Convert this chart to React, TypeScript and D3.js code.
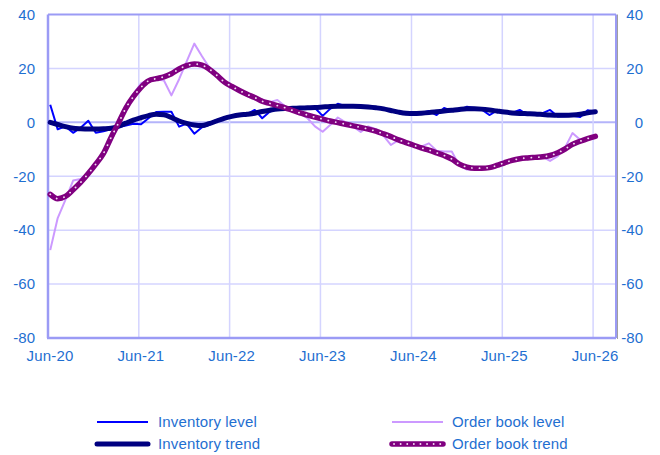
import React from "react";
import * as d3 from "d3";

const xTickLabels = ["Jun-20", "Jun-21", "Jun-22", "Jun-23", "Jun-24", "Jun-25", "Jun-26"];
const yTicks = [-80, -60, -40, -20, 0, 20, 40];

// monthly observations from Jun-2020 to Jun-2026
const startYear = 2020;
const startMonth = 5; // June (0-based)

const inventoryLevel = [
  6.5, -2.6, -1.5, -3.9, -2, 0.6, -3.9, -3.3, -2.5, -1.8, -1.2, -0.5,
  -0.7, 1.5, 3.8, 3.9, 3.9, -1.6, -0.5, -4.2, -1.8, -1, 0.5, 1.5,
  2, 2.5, 3, 4.6, 1.5, 4, 4.8, 5, 5.1, 5.3, 5.6, 5.3,
  2.4, 5, 6.9, 6, 6, 6, 5.5, 5.5, 5, 4.6, 3.5, 3,
  3.1, 3.5, 4.2, 2.7, 5.3, 4.2, 4.5, 5.8, 5.3, 4.8, 2.7, 4.3,
  4, 3.5, 4.6, 2.8, 3, 3.4, 4.6, 2.2, 2.3, 2.4, 2, 4.5,
  3.9,
];

const inventoryTrend = [
  0, -0.8, -1.6, -2.2, -2.4, -2.5, -2.5, -2.4, -2.2, -1.5, -0.3, 0.8,
  1.7, 2.5, 3, 2.8, 1.8, 0.5, -0.4, -1, -1.2, -0.5, 0.5, 1.5,
  2.2, 2.7, 3, 3.4, 4, 4.5, 4.9, 5.1, 5.2, 5.3, 5.4, 5.5,
  5.7, 5.9, 6, 6, 6, 5.9, 5.7, 5.4, 5, 4.4, 3.8, 3.4,
  3.3, 3.4, 3.6, 3.9, 4.2, 4.5, 4.8, 5, 5, 4.9, 4.6, 4.2,
  3.8, 3.5, 3.3, 3.2, 3.1, 2.9, 2.7, 2.6, 2.6, 2.7, 3, 3.5,
  3.9,
];

const orderBookLevel = [
  -47.4, -35.5, -28.8, -21.6, -21, -19, -16, -12, -7, -1, 5, 10.5,
  14.5, 15.5, 16, 15.5, 10, 16, 22.5, 29.2, 24.5, 20.5, 17.5, 14.5,
  13, 11.5, 10, 9.3, 8.5, 7.5, 8.3, 6, 4.5, 3.5, 1.5, -1.5,
  -3.5, -1, 1.8, 0, -1.5, -3.6, -1.5, -2.5, -5, -8.4, -6.6, -7.5,
  -8, -9, -7.8, -10.5, -10.8, -10.8, -16, -17.5, -17.5, -17.5, -17, -16.5,
  -14.8, -14, -13.5, -13.3, -13, -12.8, -14.3, -12.5, -9, -4, -6.5, -6,
  -5.3,
];

const orderBookTrend = [
  -26.7, -28.3, -27.5, -25, -22.3, -19, -15.5, -11.5, -5.5, -0.5, 5.3, 9.5,
  13, 15.4, 16.2, 16.9, 18, 19.8, 21, 21.6, 21.2, 19.8, 17.5, 15,
  13.3, 11.8, 10.4, 9.2, 7.8, 7, 6.2, 5.4, 4.4, 3.5, 2.7, 1.9,
  1.2, 0.5, -0.1, -0.7, -1.3, -1.9, -2.5, -3.3, -4.3, -5.3, -6.5, -7.5,
  -8.5, -9.5, -10.3, -11.3, -12.3, -13.6, -15.5, -16.6, -17, -17, -16.8, -16,
  -15, -14.1, -13.5, -13.2, -13, -12.8, -12.3, -11.3, -9.8, -8.2, -7, -6,
  -5.2,
];

const seriesNames = ["Inventory level", "Inventory trend", "Order book level", "Order book trend"];

const W = 660;
const H = 455;
const left = 48;
const right = 616;
const top = 14.5;
const bottom = 338;

const labelColor = "#1f6fd1";
const axisColor = "#9b9bf5";
const gridColor = "#d4d4ff";
const font = "'Liberation Sans', Arial, sans-serif";
const fs = 15;
const ls = 0.15;

export default function App() {
  const dates = inventoryLevel.map((_, i) => new Date(startYear, startMonth + i, 10));
  const x = d3
    .scaleTime()
    .domain([new Date(2020, 5, 1), new Date(2026, 8, 1)])
    .range([left, right]);
  const y = d3.scaleLinear().domain([-80, 40]).range([bottom, top]);

  const tickDates = xTickLabels.map((_, i) => new Date(2020 + i, 5, 1));

  const lin = d3
    .line<number>()
    .x((_, i) => x(dates[i]))
    .y((d) => y(d));
  const smooth = d3
    .line<number>()
    .x((_, i) => x(dates[i]))
    .y((d) => y(d))
    .curve(d3.curveMonotoneX);

  return (
    <svg
      width={W}
      height={H}
      style={{ position: "absolute", left: 0, top: 0, background: "#fff" }}
      fontFamily={font}
    >
      {/* horizontal grid */}
      {yTicks.map((t) =>
        t === 40 || t === -80 ? null : (
          <line
            key={"h" + t}
            x1={left}
            x2={right}
            y1={y(t)}
            y2={y(t)}
            stroke={t === 0 ? "#b4b4fa" : gridColor}
            strokeWidth={t === 0 ? 2 : 1.5}
          />
        )
      )}
      {/* vertical grid */}
      {tickDates.map((d, i) =>
        i === 0 ? null : (
          <line
            key={"v" + i}
            x1={x(d)}
            x2={x(d)}
            y1={top}
            y2={bottom}
            stroke={gridColor}
            strokeWidth={1.5}
          />
        )
      )}
      {/* frame */}
      <line x1={left} x2={right} y1={top} y2={top} stroke={axisColor} strokeWidth={2} />
      <line x1={right} x2={right} y1={top} y2={bottom} stroke={axisColor} strokeWidth={2} />
      <line x1={right + 1.5} x2={right + 1.5} y1={top} y2={bottom + 1} stroke="#a0a0a0" strokeWidth={1} />
      <line x1={left} x2={left} y1={top} y2={bottom} stroke={axisColor} strokeWidth={2.5} />
      <line x1={left - 1} x2={right} y1={bottom} y2={bottom} stroke={axisColor} strokeWidth={2.5} />

      {/* series */}
      <path d={lin(orderBookLevel) ?? ""} fill="none" stroke="#cc99ff" strokeWidth={2} strokeLinejoin="round" />
      <path d={lin(inventoryLevel) ?? ""} fill="none" stroke="#0000ff" strokeWidth={2} strokeLinejoin="round" />
      <path d={smooth(inventoryTrend) ?? ""} fill="none" stroke="#000080" strokeWidth={5} strokeLinejoin="round" strokeLinecap="round" />
      <path d={smooth(orderBookTrend) ?? ""} fill="none" stroke="#800080" strokeWidth={5.5} strokeLinejoin="round" strokeLinecap="round" />
      <path
        d={smooth(orderBookTrend) ?? ""}
        fill="none"
        stroke="#f2dcf2"
        strokeWidth={1.8}
        strokeDasharray="0.1 7.5"
        strokeLinecap="round"
      />

      {/* left y labels */}
      {yTicks.map((t) => (
        <text
          key={"yl" + t}
          x={35}
          y={y(t)}
          dy="0.35em"
          textAnchor="end"
          fontSize={fs}
          fill={labelColor}
        >
          {t}
        </text>
      ))}
      {/* right y labels */}
      {yTicks.map((t) => (
        <text
          key={"yr" + t}
          x={643}
          y={y(t)}
          dy="0.35em"
          textAnchor="end"
          fontSize={fs}
          fill={labelColor}
        >
          {t}
        </text>
      ))}
      {/* x labels */}
      {tickDates.map((d, i) => (
        <text
          key={"xl" + i}
          x={x(d) + 2}
          y={361}
          textAnchor="middle"
          fontSize={fs}
          letterSpacing={ls}
          fill={labelColor}
        >
          {xTickLabels[i]}
        </text>
      ))}

      {/* legend */}
      <g fontSize={fs} fill={labelColor} letterSpacing={ls}>
        <line x1={97} x2={148} y1={422} y2={422} stroke="#0000ff" strokeWidth={2} />
        <text x={158} y={427}>{seriesNames[0]}</text>
        <line x1={97} x2={148} y1={444} y2={444} stroke="#000080" strokeWidth={5} strokeLinecap="round" />
        <text x={158} y={449}>{seriesNames[1]}</text>
        <line x1={392} x2={443} y1={422} y2={422} stroke="#cc99ff" strokeWidth={2} />
        <text x={452} y={427}>{seriesNames[2]}</text>
        <line x1={392} x2={443} y1={444} y2={444} stroke="#800080" strokeWidth={5.5} strokeLinecap="round" />
        <line
          x1={394}
          x2={443}
          y1={444}
          y2={444}
          stroke="#f2dcf2"
          strokeWidth={1.8}
          strokeDasharray="0.1 6.5"
          strokeLinecap="round"
        />
        <text x={452} y={449}>{seriesNames[3]}</text>
      </g>
    </svg>
  );
}
